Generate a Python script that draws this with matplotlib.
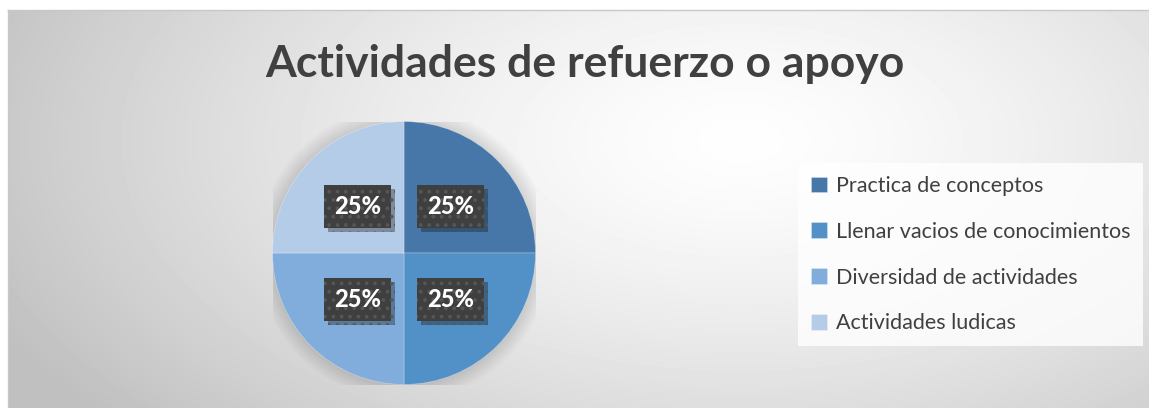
import numpy as np
import matplotlib
matplotlib.use('Agg')
from matplotlib import pyplot as plt
from matplotlib import patheffects

plt.rcParams['font.family'] = ['Lato', 'DejaVu Sans']
plt.rcParams['hatch.linewidth'] = 1.5

title = 'Actividades de refuerzo o apoyo'
categories = ['Practica de conceptos', 'Llenar vacios de conocimientos',
              'Diversidad de actividades', 'Actividades ludicas']
shares = [25, 25, 25, 25]
colors = ['#4677A8', '#5290C8', '#80ADDC', '#B5CCE8']

W, H = 1149, 408
fig = plt.figure(figsize=(W / 100, H / 100), dpi=100)
fig.patch.set_facecolor('white')

# background with radial gradient
bg = fig.add_axes([8 / W, 0, (W - 8) / W, (H - 10) / H])
xx, yy = np.meshgrid(np.arange(8, W), np.arange(10, H))
d = np.sqrt(((xx - 740) / 820.0) ** 2 + ((yy - 140) / 430.0) ** 2)
gray = np.clip(254 - 62 * d ** 1.4, 192, 254) / 255.0
bg.imshow(gray, cmap='gray', vmin=0, vmax=1, aspect='auto',
          extent=[8, W, H, 10], interpolation='bilinear')
bg.set_xticks([]), bg.set_yticks([])
for s in ['right', 'bottom']:
    bg.spines[s].set_visible(False)
for s in ['top', 'left']:
    bg.spines[s].set_color('#C8C8C8')
    bg.spines[s].set_linewidth(1)

fig.text(585 / W, 1 - 64 / H, title, ha='center', va='center',
         fontsize=32, fontweight='bold', color='#404040')

# pie
cx, cy, r = 404, 253, 131.5
ax = fig.add_axes([(cx - r) / W, 1 - (cy + r) / H, 2 * r / W, 2 * r / H])
ax.patch.set_alpha(0)

# soft glow around the pie
for k in range(10):
    ax.add_patch(plt.Circle((0, 0), 1 + 0.012 * (k + 1), color='black',
                            alpha=0.01, lw=0, zorder=0))

wedges, texts, autotexts = ax.pie(shares, colors=colors, startangle=90,
                                  counterclock=False, radius=1,
                                  autopct='%1.0f%%', pctdistance=0.5,
                                  wedgeprops=dict(linewidth=0.6, edgecolor=(1, 1, 1, 0.3)))
ax.set_xlim(-1, 1)
ax.set_ylim(-1, 1)
ax.axis('off')

for t in autotexts:
    t.set_color('white')
    t.set_fontsize(17)
    t.set_fontweight(900)
    t.set_bbox(dict(boxstyle='square,pad=0.42', facecolor='#3F3F3F',
                    edgecolor='#565656', linewidth=0, hatch='..'))
    t.get_bbox_patch().set_path_effects([
        patheffects.SimplePatchShadow(offset=(3, -3), alpha=0.35),
        patheffects.Normal()])

leg = fig.legend(wedges, categories, loc='upper left',
                 bbox_to_anchor=(798 / W, 1 - 163 / H),
                 frameon=True, fancybox=False, fontsize=15.5,
                 labelspacing=1.2, handlelength=0.75, handleheight=0.75,
                 handletextpad=0.4, borderpad=0.6, borderaxespad=0)
leg.get_frame().set_facecolor((1, 1, 1, 0.5))
leg.get_frame().set_edgecolor('none')
for t in leg.get_texts():
    t.set_color('#404040')

fig.savefig('out.png', dpi=100)
